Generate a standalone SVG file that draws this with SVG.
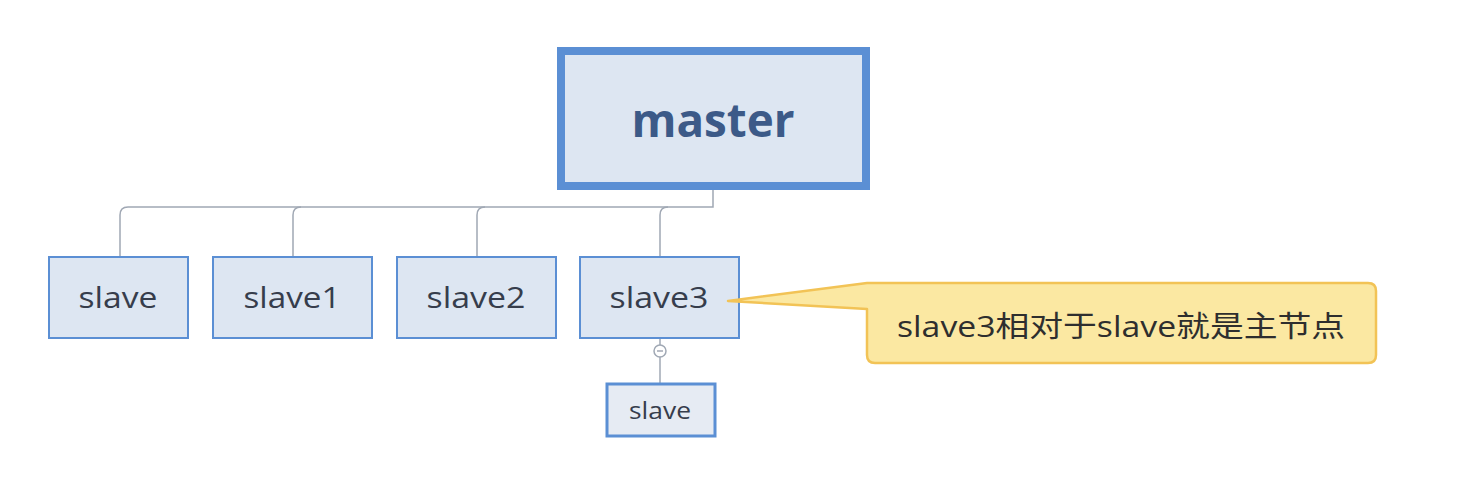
<svg xmlns="http://www.w3.org/2000/svg" width="1476" height="487" viewBox="0 0 1476 487">
<style>
.bg{fill:#ffffff}
.node{fill:#dde6f2;stroke:#5b8fd4;stroke-width:2}
.lbl{font-family:"Open Sans","Noto Sans","Liberation Sans",sans-serif;fill:#363d4c;text-anchor:middle}
.conn{fill:none;stroke:#a0a8b4;stroke-width:1.5}
</style>
<rect class="bg" x="0" y="0" width="1476" height="487"/>
<g id="connectors">
<path class="conn" d="M713,190 V207 H128 Q120,207 120,215 V256"/>
<path class="conn" d="M293,256 V215 Q293,207 301,207"/>
<path class="conn" d="M477,256 V215 Q477,207 485,207"/>
<path class="conn" d="M660,256 V215 Q660,207 668,207"/>
<path class="conn" d="M660,338 V383"/>
</g>
<g id="master">
<rect x="561" y="51" width="305" height="135" fill="#dde6f2" stroke="#5b8fd4" stroke-width="8"/>
<text class="lbl" x="713" y="137" font-size="46" font-weight="bold" textLength="163" lengthAdjust="spacingAndGlyphs" style="fill:#3c5a88">master</text>
</g>
<g id="slave">
<rect class="node" x="49" y="257" width="139" height="81"/>
<text class="lbl" x="118" y="308" font-size="29" textLength="79" lengthAdjust="spacingAndGlyphs">slave</text>
</g>
<g id="slave1">
<rect class="node" x="213" y="257" width="159" height="81"/>
<text class="lbl" x="292" y="308" font-size="29" textLength="97" lengthAdjust="spacingAndGlyphs">slave1</text>
</g>
<g id="slave2">
<rect class="node" x="397" y="257" width="159" height="81"/>
<text class="lbl" x="476" y="308" font-size="29" textLength="99" lengthAdjust="spacingAndGlyphs">slave2</text>
</g>
<g id="slave3">
<rect class="node" x="580" y="257" width="159" height="81"/>
<text class="lbl" x="659" y="308" font-size="29" textLength="99" lengthAdjust="spacingAndGlyphs">slave3</text>
</g>
<g id="collapse">
<circle cx="660" cy="351" r="6" fill="#ffffff" stroke="#a0a8b4" stroke-width="1.5"/>
<line x1="657" y1="351" x2="663" y2="351" stroke="#8a92a0" stroke-width="1.2"/>
</g>
<g id="slave-child">
<rect x="607" y="384" width="108" height="52" fill="#e6ebf3" stroke="#5b8fd4" stroke-width="3"/>
<text class="lbl" x="660" y="419" font-size="23" textLength="62" lengthAdjust="spacingAndGlyphs">slave</text>
</g>
<g id="callout">
<path d="M874,283 H1368 Q1376,283 1376,291 V355 Q1376,363 1368,363 H875 Q867,363 867,355 V309 L728,301 L867,283 Z" fill="#fbe8a2" stroke="#f2c356" stroke-width="2.5" stroke-linejoin="round"/>
<text x="1121" y="337" font-size="29" font-family="'Open Sans','Noto Sans CJK SC',sans-serif" fill="#2e2e2e" text-anchor="middle" textLength="448" lengthAdjust="spacingAndGlyphs">slave3相对于slave就是主节点</text>
</g>
</svg>
